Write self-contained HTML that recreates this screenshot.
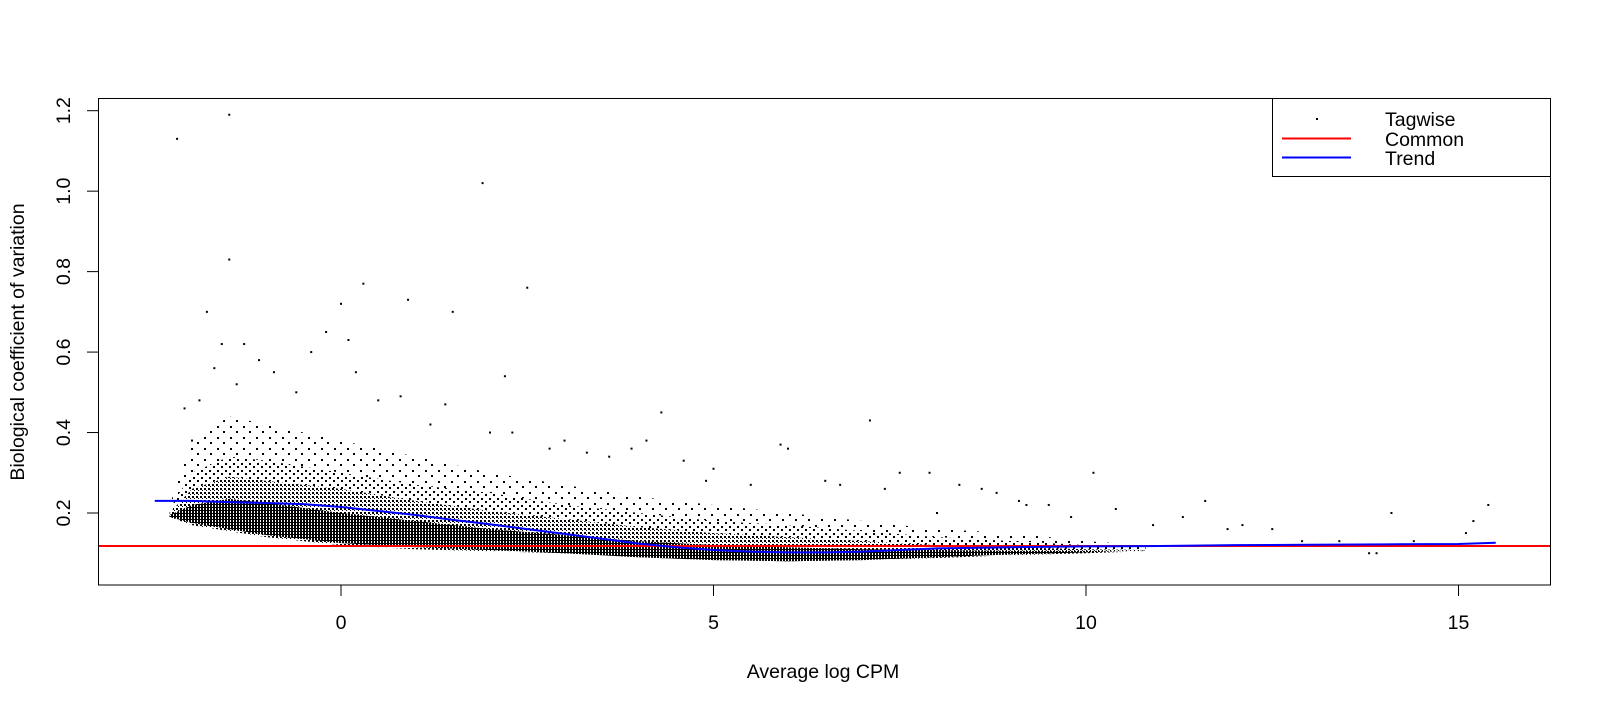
<!DOCTYPE html>
<html><head><meta charset="utf-8"><style>
body{margin:0;background:#fff;}
svg text{font-family:"Liberation Sans",Arial,sans-serif;fill:#000;}
</style></head><body>
<svg id="chart" width="1601" height="708" xmlns="http://www.w3.org/2000/svg">
<defs>
<pattern id="dots" width="3" height="3" patternUnits="userSpaceOnUse"><rect width="3" height="3" fill="#fff"/><rect x="0" y="0" width="2" height="3" fill="#000"/><rect x="2" y="0" width="1" height="1" fill="#000"/></pattern>
<pattern id="mid" width="4" height="4" patternUnits="userSpaceOnUse"><rect width="4" height="4" fill="#fff"/><rect x="0" y="0" width="2" height="2" fill="#000"/><rect x="2" y="2" width="1" height="1" fill="#000"/></pattern>
<pattern id="sparse" width="8" height="7" patternUnits="userSpaceOnUse"><rect width="8" height="7" fill="#fff"/><rect x="1" y="1" width="2" height="2" fill="#000"/><rect x="5" y="4" width="2" height="2" fill="#000"/></pattern>
<pattern id="vsparse" width="13" height="11" patternUnits="userSpaceOnUse"><rect width="13" height="11" fill="#fff"/><rect x="2" y="2" width="2" height="2" fill="#000"/><rect x="9" y="8" width="2" height="2" fill="#000"/></pattern>
</defs>
<g id="plot"></g>
<rect x="98.5" y="98.5" width="1452" height="486.5" fill="none" stroke="#000" stroke-width="1"/>
<text x="823" y="678" font-size="19.5" text-anchor="middle">Average log CPM</text>
<text transform="translate(24,342) rotate(-90)" font-size="19.5" text-anchor="middle">Biological coefficient of variation</text>
<g>
<rect x="1272.5" y="98.5" width="278" height="78" fill="#fff" stroke="#000"/>
<rect x="1316" y="118" width="2" height="2" fill="#000"/>
<text x="1385" y="126" font-size="19.5">Tagwise</text>
<line x1="1282" y1="138.5" x2="1351" y2="138.5" stroke="#f00" stroke-width="2"/>
<text x="1385" y="146" font-size="19.5">Common</text>
<line x1="1282" y1="157.5" x2="1351" y2="157.5" stroke="#00f" stroke-width="2"/>
<text x="1385" y="165" font-size="19.5">Trend</text>
</g>
</svg>
<script>
const xTicks=[0,5,10,15];
const yTicks=[0.2,0.4,0.6,0.8,1.0,1.2];
const yTickLabels=["0.2","0.4","0.6","0.8","1.0","1.2"];
const commonBCV=0.118;
const trendX=[-2.5,-2,-1.5,-1,-0.5,0,0.5,1,1.5,2,2.5,3,3.5,4,4.5,5,5.5,6,6.5,7,7.5,8,9,10,11,12,13,14,15,15.5];
const trendY=[0.23,0.23,0.227,0.225,0.222,0.215,0.205,0.195,0.183,0.172,0.16,0.148,0.136,0.124,0.115,0.108,0.104,0.102,0.102,0.104,0.108,0.112,0.115,0.117,0.118,0.12,0.121,0.122,0.123,0.126];
const cloudX=[-2.3,-2,-1.5,-1,0,1,2,3,4,5,6,7,8,9,10,10.8];
const haloUpper=[0.22,0.38,0.44,0.42,0.38,0.34,0.3,0.27,0.24,0.22,0.2,0.18,0.16,0.15,0.13,0.12];
const cloudUpper=[0.21,0.3,0.34,0.33,0.3,0.27,0.25,0.22,0.2,0.18,0.17,0.155,0.14,0.13,0.12,0.115];
const cloudLower=[0.19,0.17,0.155,0.14,0.12,0.11,0.105,0.1,0.09,0.083,0.08,0.083,0.088,0.095,0.1,0.105];
const midUpper=[0.2,0.26,0.29,0.28,0.26,0.23,0.205,0.185,0.165,0.15,0.14,0.13,0.12,0.115,0.11,0.108];
const coreUpper=[0.195,0.22,0.235,0.225,0.2,0.18,0.16,0.145,0.13,0.12,0.115,0.11,0.108,0.106,0.106,0.106];
const coreLower=[0.19,0.175,0.16,0.145,0.125,0.115,0.108,0.1,0.09,0.083,0.08,0.083,0.09,0.097,0.102,0.107];
const ptX=[-2.2,-1.5,-1.5,1.9,0.3,-1.8,0.9,2.5,1.5,0,-0.2,-1.3,-1.6,0.2,0.1,-0.4,2.2,-0.9,-1.1,-1.7,1.4,0.8,4.3,-2.1,-1.9,7.1,5.9,6,2.3,3.6,3.3,4.1,5,6.7,7.5,7.9,8.3,8.6,9.2,10.1,10.4,10.9,11.6,11.9,12.5,12.9,13.4,13.9,14.1,14.4,15.2,15.4,15.1,13.8,12.1,11.3,9.8,9.5,9.1,8.8,8,7.3,6.5,5.5,4.9,4.6,3.9,3,2.8,2,1.2,0.5,-0.6,-1.4,-2];
const ptY=[1.13,1.19,0.83,1.02,0.77,0.7,0.73,0.76,0.7,0.72,0.65,0.62,0.62,0.55,0.63,0.6,0.54,0.55,0.58,0.56,0.47,0.49,0.45,0.46,0.48,0.43,0.37,0.36,0.4,0.34,0.35,0.38,0.31,0.27,0.3,0.3,0.27,0.26,0.22,0.3,0.21,0.17,0.23,0.16,0.16,0.13,0.13,0.1,0.2,0.13,0.18,0.22,0.15,0.1,0.17,0.19,0.19,0.22,0.23,0.25,0.2,0.26,0.28,0.27,0.28,0.33,0.36,0.38,0.36,0.4,0.42,0.48,0.5,0.52,0.38];
const X=v=>341+v*74.5;
const Y=v=>513-(v-0.2)*402.3;
const NS='http://www.w3.org/2000/svg';
const svg=document.getElementById('chart');
const plot=document.getElementById('plot');
function mk(t,a,p){const e=document.createElementNS(NS,t);for(const k in a)e.setAttribute(k,a[k]);(p||plot).appendChild(e);return e;}
function band(up,lo,fill,name){
 let d='M'+cloudX.map((x,i)=>X(x)+','+Y(up[i])).join('L');
 for(let i=cloudX.length-1;i>=0;i--)d+='L'+X(cloudX[i])+','+Y(lo[i]);
 const e=mk('path',{d:d+'Z',fill:fill});
 
 
}
band(haloUpper,cloudLower,'url(#vsparse)','tagwise-cloud-halo');
band(cloudUpper,cloudLower,'url(#sparse)','tagwise-cloud-outer');
band(midUpper,cloudLower,'url(#mid)','tagwise-cloud-mid');
band(coreUpper,coreLower,'url(#dots)','tagwise-cloud-core');
ptX.forEach((x,i)=>{
 const r=mk('rect',{x:X(x)-1,y:Y(ptY[i])-1,width:2,height:2,fill:'#000'});
 
 
});
const cl=mk('line',{x1:98.5,x2:1550.5,y1:Y(commonBCV),y2:Y(commonBCV),stroke:'#f00','stroke-width':2});


const tl=mk('polyline',{points:trendX.map((x,i)=>X(x)+','+Y(trendY[i])).join(' '),fill:'none',stroke:'#00f','stroke-width':2});


xTicks.forEach(t=>{
 const l=mk('line',{x1:X(t),x2:X(t),y1:585,y2:596,stroke:'#000'},svg);
 
 
 const tx=mk('text',{x:X(t),y:629,'font-size':19.5,'text-anchor':'middle'},svg);
 tx.textContent=String(t);
 
 
});
yTicks.forEach((t,i)=>{
 const l=mk('line',{x1:87,x2:98.5,y1:Y(t),y2:Y(t),stroke:'#000'},svg);
 
 
 const tx=mk('text',{transform:'translate(70,'+Y(t)+') rotate(-90)','font-size':19.5,'text-anchor':'middle'},svg);
 tx.textContent=yTickLabels[i];
 
 
});
</script>
</body></html>
